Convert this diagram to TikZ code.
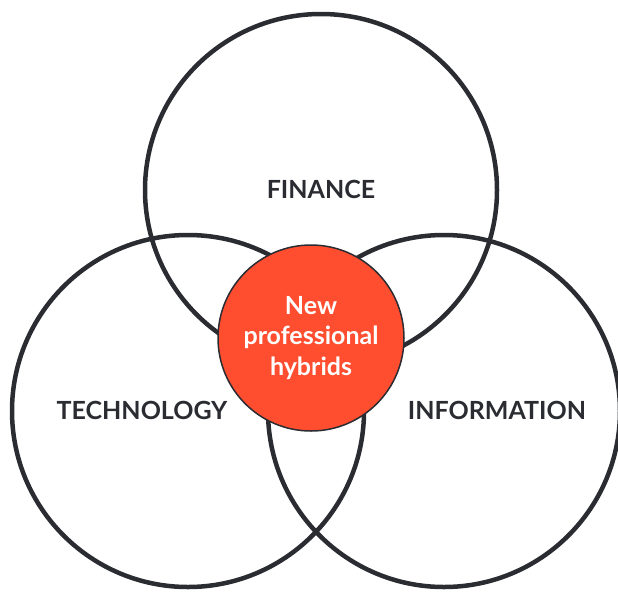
\documentclass[tikz,border=0pt]{standalone}
\usepackage{fontspec}
\setmainfont{Lato}[UprightFont=* Bold]
\definecolor{ringcol}{RGB}{42,44,50}
\definecolor{hubred}{RGB}{255,77,48}
\begin{document}
\begin{tikzpicture}[x=1pt,y=-1pt,
  ring/.style={circle,draw=ringcol,line width=4.5pt,minimum size=352pt,inner sep=0pt},
  hub/.style={circle,draw=ringcol,line width=1.5pt,fill=hubred,minimum size=186pt,inner sep=0pt,
    text=white,align=center,font=\fontsize{25}{30.5}\selectfont},
  lbl/.style={text=ringcol,font=\fontsize{25}{28}\selectfont}]
\useasboundingbox (0,0) rectangle (618,592);
\node[ring] (fin) at (321,190) {};
\node[ring] (tech) at (188,411) {};
\node[ring] (info) at (444,411) {};
\node[hub] (hyb) at (311,338) {New\\professional\\hybrids};
\node[lbl] (finl) at (321,189) {FINANCE};
\node[lbl] (techl) at (142,410) {TECHNOLOGY};
\node[lbl] (infol) at (497,410) {INFORMATION};
\end{tikzpicture}
\end{document}
